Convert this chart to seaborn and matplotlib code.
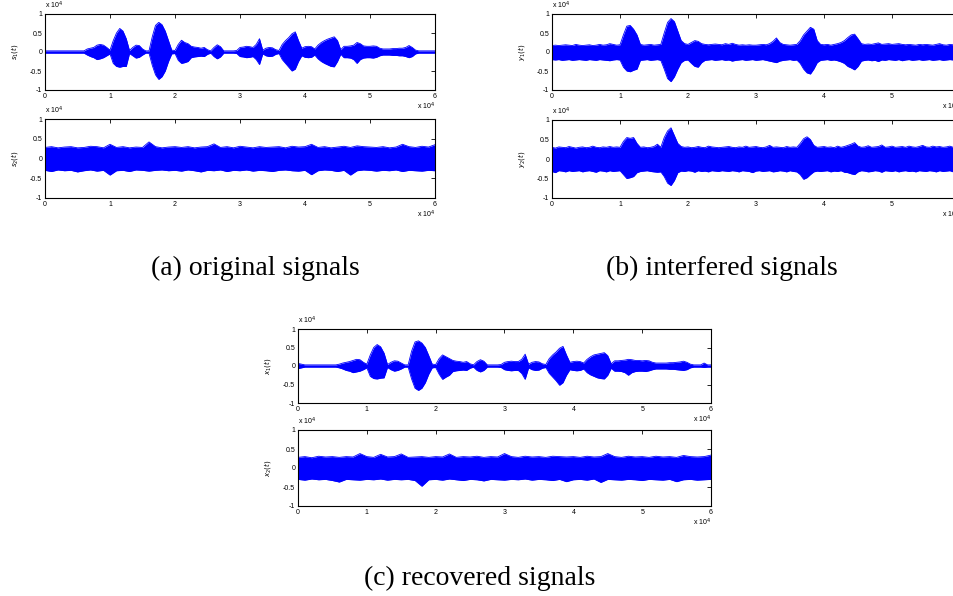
import numpy as np
import pandas as pd
import matplotlib.pyplot as plt
import seaborn as sns

# sample positions, in units of 10^4 samples
x_fine = np.round(np.arange(121) * 0.05, 2)
x_coarse = np.round(np.arange(61) * 0.1, 1)

# envelopes (upper / lower), amplitude in units of 10^4
s1_up = [0.03, 0.03, 0.03, 0.03, 0.03, 0.03, 0.03, 0.03, 0.03, 0.03,
         0.03, 0.03, 0.03, 0.08, 0.10, 0.12, 0.18, 0.20, 0.18, 0.12,
         0.05, 0.30, 0.50, 0.62, 0.55, 0.35, 0.04, 0.12, 0.18, 0.17,
         0.08, 0.03, 0.03, 0.40, 0.70, 0.78, 0.72, 0.55, 0.30, 0.05,
         0.04, 0.20, 0.31, 0.25, 0.22, 0.15, 0.13, 0.12, 0.10, 0.12,
         0.06, 0.03, 0.12, 0.19, 0.14, 0.03, 0.03, 0.03, 0.03, 0.04,
         0.12, 0.13, 0.15, 0.14, 0.12, 0.20, 0.35, 0.05, 0.10, 0.12,
         0.11, 0.06, 0.04, 0.20, 0.30, 0.38, 0.48, 0.53, 0.30, 0.10,
         0.14, 0.15, 0.14, 0.08, 0.18, 0.25, 0.30, 0.34, 0.37, 0.40,
         0.30, 0.06, 0.15, 0.15, 0.16, 0.18, 0.25, 0.22, 0.16, 0.15,
         0.15, 0.16, 0.15, 0.10, 0.08, 0.08, 0.08, 0.09, 0.09, 0.10,
         0.10, 0.12, 0.17, 0.12, 0.05, 0.03, 0.03, 0.03, 0.03, 0.03,
         0.03]
s1_lo = [-0.03, -0.03, -0.03, -0.03, -0.03, -0.03, -0.03, -0.03, -0.03, -0.03,
         -0.03, -0.03, -0.03, -0.08, -0.12, -0.15, -0.20, -0.18, -0.15, -0.10,
         -0.05, -0.30, -0.38, -0.40, -0.38, -0.38, -0.04, -0.10, -0.16, -0.14,
         -0.08, -0.03, -0.03, -0.35, -0.60, -0.72, -0.65, -0.50, -0.25, -0.05,
         -0.04, -0.22, -0.30, -0.28, -0.25, -0.15, -0.13, -0.12, -0.11, -0.12,
         -0.06, -0.03, -0.12, -0.18, -0.13, -0.03, -0.03, -0.03, -0.03, -0.04,
         -0.12, -0.13, -0.15, -0.14, -0.12, -0.20, -0.33, -0.05, -0.10, -0.12,
         -0.11, -0.06, -0.04, -0.20, -0.30, -0.40, -0.50, -0.45, -0.25, -0.10,
         -0.14, -0.15, -0.14, -0.08, -0.18, -0.25, -0.30, -0.34, -0.38, -0.39,
         -0.25, -0.06, -0.15, -0.15, -0.16, -0.20, -0.30, -0.20, -0.16, -0.15,
         -0.15, -0.16, -0.14, -0.10, -0.08, -0.08, -0.08, -0.09, -0.09, -0.10,
         -0.10, -0.12, -0.15, -0.12, -0.05, -0.03, -0.03, -0.03, -0.03, -0.03,
         -0.03]

s2_up = [0.28, 0.30, 0.27, 0.29, 0.30, 0.27, 0.28, 0.31, 0.30, 0.27,
         0.36, 0.28, 0.30, 0.27, 0.29, 0.28, 0.42, 0.30, 0.27, 0.29,
         0.30, 0.28, 0.30, 0.27, 0.29, 0.30, 0.37, 0.28, 0.30, 0.27,
         0.31, 0.29, 0.27, 0.30, 0.28, 0.29, 0.30, 0.27, 0.31, 0.29,
         0.30, 0.36, 0.28, 0.30, 0.27, 0.29, 0.31, 0.28, 0.32, 0.30,
         0.29, 0.28, 0.30, 0.27, 0.29, 0.36, 0.30, 0.28, 0.31, 0.29,
         0.35]
s2_lo = [-0.30, -0.33, -0.29, -0.31, -0.30, -0.34, -0.31, -0.29, -0.32, -0.30,
         -0.42, -0.31, -0.30, -0.33, -0.29, -0.30, -0.32, -0.30, -0.29, -0.31,
         -0.30, -0.32, -0.29, -0.31, -0.34, -0.30, -0.31, -0.29, -0.33, -0.30,
         -0.31, -0.29, -0.32, -0.30, -0.31, -0.33, -0.30, -0.29, -0.31, -0.32,
         -0.30, -0.41, -0.31, -0.29, -0.30, -0.33, -0.30, -0.42, -0.31, -0.29,
         -0.30, -0.32, -0.30, -0.31, -0.29, -0.33, -0.30, -0.31, -0.32, -0.30,
         -0.31]

y1_up = [0.17, 0.18, 0.17, 0.18, 0.19, 0.18, 0.17, 0.20, 0.18, 0.17,
         0.18, 0.19, 0.17, 0.18, 0.20, 0.18, 0.19, 0.22, 0.20, 0.18,
         0.19, 0.45, 0.68, 0.70, 0.60, 0.45, 0.20, 0.18, 0.19, 0.20,
         0.18, 0.19, 0.20, 0.50, 0.78, 0.88, 0.80, 0.55, 0.30, 0.22,
         0.20, 0.25, 0.30, 0.28, 0.22, 0.20, 0.19, 0.20, 0.21, 0.20,
         0.19, 0.22, 0.20, 0.23, 0.20, 0.18, 0.19, 0.18, 0.19, 0.18,
         0.18, 0.19, 0.20, 0.19, 0.22, 0.28, 0.37, 0.25, 0.20, 0.19,
         0.18, 0.19, 0.20, 0.30, 0.45, 0.55, 0.65, 0.60, 0.30, 0.20,
         0.19, 0.20, 0.18, 0.20, 0.22, 0.25, 0.30, 0.38, 0.45, 0.47,
         0.35, 0.22, 0.20, 0.21, 0.20, 0.22, 0.24, 0.20, 0.21, 0.22,
         0.20, 0.21, 0.22, 0.20, 0.19, 0.20, 0.19, 0.18, 0.20, 0.19,
         0.20, 0.19, 0.18, 0.20, 0.22, 0.19, 0.18, 0.20, 0.19, 0.18,
         0.18]
y1_lo = [-0.20, -0.21, -0.20, -0.22, -0.21, -0.20, -0.22, -0.21, -0.20, -0.21,
         -0.22, -0.20, -0.21, -0.22, -0.20, -0.21, -0.22, -0.23, -0.21, -0.20,
         -0.21, -0.40, -0.50, -0.52, -0.48, -0.45, -0.22, -0.21, -0.20, -0.22,
         -0.21, -0.20, -0.22, -0.45, -0.70, -0.78, -0.65, -0.45, -0.28, -0.22,
         -0.21, -0.30, -0.38, -0.40, -0.28, -0.22, -0.21, -0.20, -0.22, -0.21,
         -0.20, -0.22, -0.21, -0.24, -0.22, -0.21, -0.20, -0.22, -0.21, -0.20,
         -0.22, -0.21, -0.20, -0.22, -0.24, -0.26, -0.28, -0.24, -0.22, -0.21,
         -0.20, -0.22, -0.21, -0.30, -0.45, -0.55, -0.58, -0.45, -0.28, -0.22,
         -0.21, -0.20, -0.22, -0.21, -0.23, -0.26, -0.30, -0.38, -0.42, -0.47,
         -0.38, -0.24, -0.22, -0.21, -0.23, -0.22, -0.25, -0.21, -0.22, -0.20,
         -0.21, -0.22, -0.20, -0.23, -0.21, -0.20, -0.22, -0.21, -0.20, -0.22,
         -0.21, -0.20, -0.22, -0.21, -0.20, -0.22, -0.21, -0.20, -0.21, -0.20,
         -0.21]

y2_up = [0.30, 0.28, 0.31, 0.30, 0.29, 0.32, 0.30, 0.28, 0.30, 0.31,
         0.29, 0.30, 0.33, 0.30, 0.29, 0.31, 0.30, 0.32, 0.30, 0.31,
         0.30, 0.45, 0.55, 0.53, 0.55, 0.40, 0.30, 0.31, 0.29, 0.30,
         0.32, 0.38, 0.30, 0.55, 0.72, 0.80, 0.60, 0.40, 0.32, 0.30,
         0.31, 0.29, 0.30, 0.32, 0.30, 0.29, 0.33, 0.31, 0.30, 0.29,
         0.30, 0.31, 0.32, 0.30, 0.29, 0.31, 0.30, 0.33, 0.30, 0.31,
         0.32, 0.30, 0.29, 0.31, 0.35, 0.30, 0.31, 0.30, 0.29, 0.32,
         0.30, 0.31, 0.30, 0.40, 0.52, 0.57, 0.50, 0.35, 0.30, 0.31,
         0.32, 0.30, 0.31, 0.29, 0.33, 0.30, 0.32, 0.35, 0.38, 0.42,
         0.33, 0.30, 0.31, 0.34, 0.30, 0.31, 0.32, 0.36, 0.30, 0.31,
         0.33, 0.30, 0.31, 0.32, 0.30, 0.33, 0.31, 0.30, 0.32, 0.35,
         0.31, 0.30, 0.33, 0.31, 0.32, 0.30, 0.31, 0.33, 0.30, 0.32,
         0.31]
y2_lo = [-0.32, -0.35, -0.30, -0.31, -0.33, -0.30, -0.32, -0.31, -0.30, -0.33,
         -0.31, -0.30, -0.32, -0.34, -0.30, -0.31, -0.33, -0.30, -0.32, -0.31,
         -0.30, -0.40, -0.50, -0.48, -0.45, -0.35, -0.32, -0.31, -0.30, -0.32,
         -0.33, -0.34, -0.33, -0.45, -0.62, -0.68, -0.55, -0.35, -0.31, -0.32,
         -0.30, -0.31, -0.34, -0.30, -0.32, -0.31, -0.33, -0.30, -0.31, -0.32,
         -0.30, -0.31, -0.32, -0.30, -0.31, -0.33, -0.30, -0.31, -0.32, -0.35,
         -0.31, -0.30, -0.32, -0.31, -0.30, -0.33, -0.32, -0.30, -0.31, -0.33,
         -0.30, -0.32, -0.33, -0.40, -0.52, -0.48, -0.40, -0.33, -0.31, -0.32,
         -0.31, -0.30, -0.33, -0.31, -0.32, -0.30, -0.34, -0.35, -0.38, -0.40,
         -0.33, -0.30, -0.31, -0.33, -0.32, -0.30, -0.31, -0.34, -0.30, -0.31,
         -0.32, -0.30, -0.33, -0.31, -0.30, -0.32, -0.31, -0.33, -0.30, -0.31,
         -0.32, -0.30, -0.31, -0.33, -0.30, -0.32, -0.31, -0.30, -0.33, -0.31,
         -0.30]

x1_up = [0.07, 0.05, 0.03, 0.03, 0.03, 0.03, 0.03, 0.03, 0.03, 0.03,
         0.03, 0.03, 0.05, 0.08, 0.10, 0.12, 0.15, 0.18, 0.17, 0.10,
         0.05, 0.30, 0.50, 0.58, 0.52, 0.35, 0.04, 0.10, 0.14, 0.13,
         0.08, 0.03, 0.03, 0.40, 0.65, 0.68, 0.62, 0.50, 0.28, 0.05,
         0.04, 0.20, 0.30, 0.25, 0.20, 0.15, 0.13, 0.12, 0.10, 0.12,
         0.06, 0.03, 0.12, 0.17, 0.13, 0.03, 0.03, 0.03, 0.03, 0.04,
         0.10, 0.12, 0.13, 0.12, 0.12, 0.18, 0.32, 0.05, 0.10, 0.12,
         0.11, 0.06, 0.04, 0.20, 0.30, 0.38, 0.48, 0.53, 0.30, 0.10,
         0.12, 0.13, 0.12, 0.08, 0.18, 0.25, 0.30, 0.32, 0.34, 0.36,
         0.28, 0.06, 0.14, 0.14, 0.15, 0.16, 0.18, 0.17, 0.15, 0.15,
         0.14, 0.15, 0.14, 0.10, 0.08, 0.08, 0.08, 0.08, 0.09, 0.09,
         0.10, 0.11, 0.13, 0.10, 0.05, 0.03, 0.03, 0.03, 0.08, 0.03,
         0.03]
x1_lo = [-0.07, -0.05, -0.03, -0.03, -0.03, -0.03, -0.03, -0.03, -0.03, -0.03,
         -0.03, -0.03, -0.05, -0.08, -0.12, -0.14, -0.18, -0.16, -0.14, -0.10,
         -0.05, -0.28, -0.34, -0.35, -0.33, -0.32, -0.04, -0.10, -0.14, -0.12,
         -0.08, -0.03, -0.03, -0.35, -0.60, -0.66, -0.60, -0.45, -0.22, -0.05,
         -0.04, -0.22, -0.36, -0.30, -0.25, -0.15, -0.13, -0.12, -0.11, -0.12,
         -0.06, -0.03, -0.12, -0.16, -0.12, -0.03, -0.03, -0.03, -0.03, -0.04,
         -0.10, -0.12, -0.13, -0.12, -0.12, -0.20, -0.36, -0.05, -0.10, -0.12,
         -0.11, -0.06, -0.04, -0.20, -0.30, -0.40, -0.52, -0.45, -0.25, -0.10,
         -0.12, -0.13, -0.12, -0.08, -0.18, -0.24, -0.28, -0.32, -0.34, -0.35,
         -0.25, -0.06, -0.14, -0.14, -0.15, -0.18, -0.25, -0.18, -0.15, -0.14,
         -0.14, -0.15, -0.13, -0.10, -0.08, -0.08, -0.08, -0.08, -0.09, -0.09,
         -0.10, -0.11, -0.12, -0.10, -0.05, -0.03, -0.03, -0.03, -0.04, -0.03,
         -0.03]

x2_up = [0.28, 0.30, 0.27, 0.31, 0.29, 0.30, 0.28, 0.30, 0.29, 0.38,
         0.30, 0.28, 0.36, 0.29, 0.30, 0.37, 0.28, 0.29, 0.30, 0.28,
         0.30, 0.29, 0.37, 0.28, 0.30, 0.29, 0.31, 0.28, 0.30, 0.29,
         0.38, 0.30, 0.28, 0.31, 0.29, 0.30, 0.28, 0.31, 0.30, 0.29,
         0.30, 0.28, 0.31, 0.29, 0.30, 0.38, 0.30, 0.28, 0.31, 0.29,
         0.30, 0.28, 0.31, 0.29, 0.30, 0.28, 0.33, 0.30, 0.29, 0.30,
         0.34]
x2_lo = [-0.30, -0.32, -0.29, -0.31, -0.30, -0.33, -0.37, -0.30, -0.31, -0.32,
         -0.30, -0.31, -0.29, -0.32, -0.30, -0.31, -0.30, -0.33, -0.48, -0.31,
         -0.30, -0.32, -0.29, -0.31, -0.33, -0.30, -0.31, -0.34, -0.30, -0.31,
         -0.32, -0.30, -0.31, -0.29, -0.32, -0.30, -0.31, -0.33, -0.30, -0.36,
         -0.31, -0.30, -0.32, -0.29, -0.38, -0.30, -0.31, -0.32, -0.30, -0.31,
         -0.33, -0.30, -0.31, -0.32, -0.30, -0.36, -0.31, -0.30, -0.32, -0.31,
         -0.30]

captions = ['(a) original signals', '(b) interfered signals', '(c) recovered signals']
x_ticks = [0, 1, 2, 3, 4, 5, 6]
y_ticks = [-1, -0.5, 0, 0.5, 1]
y_tick_labels = ['-1', '-0.5', '0', '0.5', '1']

sns.set_style('white')
plt.rcParams['font.family'] = ['Liberation Sans', 'DejaVu Sans']
plt.rcParams['text.color'] = 'black'

fig = plt.figure(figsize=(9.54, 5.96), dpi=100)
W, H = 954, 596


def make_ax(left, top, right, bottom):
    return fig.add_axes([left / W, 1 - bottom / H, (right - left) / W, (bottom - top) / H])


def draw(ax, x, up, lo, ylab):
    df = pd.DataFrame({'x': np.concatenate([x, x]),
                       'amp': np.concatenate([up, lo]),
                       'edge': ['up'] * len(x) + ['lo'] * len(x)})
    ax.fill_between(x, lo, up, color='#0000ff', linewidth=0)
    sns.lineplot(data=df, x='x', y='amp', units='edge', estimator=None,
                 color='#0000ff', linewidth=0.6, ax=ax, legend=False)
    ax.set_xlim(0, 6)
    ax.set_ylim(-1, 1)
    ax.set_xticks(x_ticks)
    ax.set_yticks(y_ticks)
    ax.set_yticklabels(y_tick_labels)
    ax.tick_params(direction='in', top=True, right=True, length=3, width=0.6,
                   labelsize=5, pad=2, colors='black')
    for sp in ax.spines.values():
        sp.set_visible(True)
        sp.set_color('black')
        sp.set_linewidth(0.8)
    ax.set_xlabel('')
    ax.set_ylabel(ylab, fontsize=5, labelpad=7, color='black')
    ax.annotate('x 10$^4$', xy=(0, 1), xycoords='axes fraction', xytext=(0, 2),
                textcoords='offset points', fontsize=5, ha='left', va='bottom')
    ax.annotate('x 10$^4$', xy=(1, 0), xycoords='axes fraction', xytext=(0, -8),
                textcoords='offset points', fontsize=5, ha='right', va='top')


draw(make_ax(45, 14, 435, 90), x_fine, s1_up, s1_lo, '$s_1(t)$')
draw(make_ax(45, 119, 435, 198), x_coarse, s2_up, s2_lo, '$s_2(t)$')
draw(make_ax(552, 14, 960, 90), x_fine, y1_up, y1_lo, '$y_1(t)$')
draw(make_ax(552, 120, 960, 198), x_fine, y2_up, y2_lo, '$y_2(t)$')
draw(make_ax(298, 329, 711, 403), x_fine, x1_up, x1_lo, '$x_1(t)$')
draw(make_ax(298, 430, 711, 506), x_coarse, x2_up, x2_lo, '$x_2(t)$')

cap_font = ['Liberation Serif', 'DejaVu Serif']
fig.text(255 / W, 1 - 268 / H, captions[0], ha='center', va='center', fontsize=20, family=cap_font, color='black')
fig.text(722 / W, 1 - 268 / H, captions[1], ha='center', va='center', fontsize=20, family=cap_font, color='black')
fig.text(480 / W, 1 - 578 / H, captions[2], ha='center', va='center', fontsize=20, family=cap_font, color='black')

fig.savefig('out.png', dpi=100)
